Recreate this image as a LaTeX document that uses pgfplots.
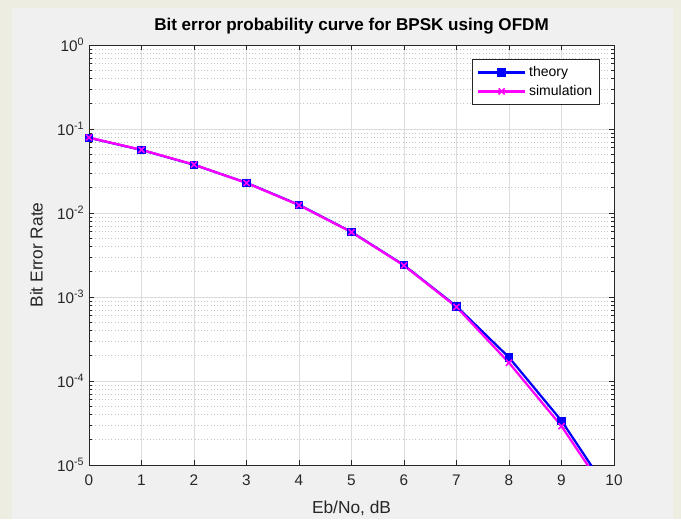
\documentclass[border=0pt]{standalone}
\usepackage{fontspec}
\setmainfont{Liberation Sans}
\usepackage{pgfplots}
\pgfplotsset{compat=1.18}
\definecolor{figbg}{HTML}{F0F0F0}
\definecolor{outerbg}{HTML}{EEEDE2}
\definecolor{majgrid}{HTML}{DCDCDC}
\definecolor{mingrid}{HTML}{C4C4C4}
\definecolor{axcol}{HTML}{262626}
\definecolor{theory}{HTML}{0000FF}
\definecolor{simul}{HTML}{FF00FF}

\begin{document}
\begin{tikzpicture}
% page and figure panel (1px = 0.75pt, axis box at origin)
\fill[outerbg] (-66.75pt,-40.5pt) rectangle (444pt,348.75pt);
\fill[figbg] (-58pt,-40.5pt) rectangle (438pt,343pt);
\begin{axis}[
    scale only axis,
    width=393.75pt,
    height=315pt,
    ymode=log,
    xmin=0, xmax=10,
    ymin=1e-5, ymax=1,
    xtick={0,1,...,10},
    ytick={1e-5,1e-4,1e-3,1e-2,1e-1,1},
    yticklabels={10\textsuperscript{-5},10\textsuperscript{-4},10\textsuperscript{-3},10\textsuperscript{-2},10\textsuperscript{-1},10\textsuperscript{0}},
    xticklabel style={/pgf/number format/assume math mode=true, font=\fontsize{11.5}{13}\selectfont, text=axcol, yshift=-4pt},
    yticklabel style={font=\fontsize{11.5}{13}\selectfont, text=axcol},
    axis background/.style={fill=white},
    axis line style={axcol, line width=0.6pt},
    tick style={axcol, line width=0.5pt},
    tick align=inside,
    major tick length=4pt,
    minor tick length=2.5pt,
    grid=both,
    xminorgrids=false,
    major grid style={majgrid, line width=0.5pt},
    minor grid style={mingrid, dotted, line width=0.5pt},
    title={\bfseries Bit error probability curve for BPSK using OFDM},
    title style={at={(axis description cs:0.5,1.025)}, anchor=center, font=\fontsize{12.8}{15}\selectfont},
    xlabel={Eb/No, dB},
    ylabel={Bit Error Rate},
    xlabel style={at={(axis description cs:0.5,-0.103)}, anchor=center, font=\fontsize{13}{15}\selectfont, text=axcol},
    ylabel style={at={(axis description cs:-0.1,0.5)}, anchor=center, font=\fontsize{13}{15}\selectfont, text=axcol},
    legend style={at={(axis description cs:0.973,0.967)}, anchor=north east, font=\fontsize{10.5}{12}\selectfont, draw=axcol, line width=0.5pt, fill=white, inner sep=3.5pt, row sep=1pt},
    legend cell align=left,
    legend image code/.code={\draw[#1] (0cm,0cm) -- (1.25cm,0cm); \draw[#1, mark repeat=2, mark phase=2] plot coordinates {(0cm,0cm) (0.625cm,0cm) (1.25cm,0cm)};},
    clip=true,
]
\addplot[theory, line width=1.7pt, mark=square*, mark size=2.8pt, mark options={solid, line width=0.8pt}] coordinates {
    (0,0.0786) (1,0.0563) (2,0.0375) (3,0.0229) (4,0.0125) (5,0.00595)
    (6,0.00239) (7,0.000773) (8,0.000191) (9,3.36e-5) (10,3.87e-6)
};
\addlegendentry{theory}
\addplot[simul, line width=1.7pt, mark=x, mark size=3.2pt, mark options={solid, line width=1.2pt}] coordinates {
    (0,0.0790) (1,0.0565) (2,0.0377) (3,0.0228) (4,0.0124) (5,0.00592)
    (6,0.00237) (7,0.00076) (8,0.000165) (9,2.9e-5) (10,3.4e-6)
};
\addlegendentry{simulation}
\end{axis}
\end{tikzpicture}
\end{document}
